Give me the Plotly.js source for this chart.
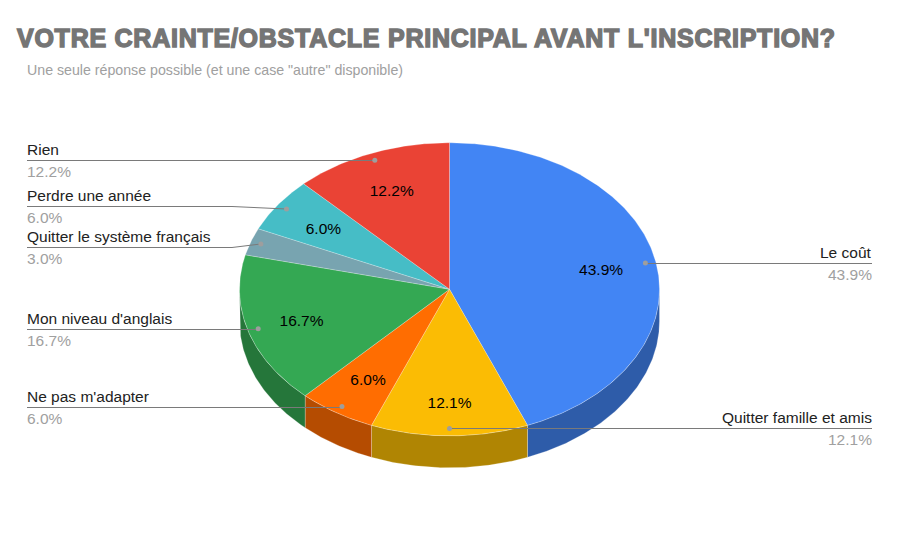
<!DOCTYPE html>
<html><head><meta charset="utf-8">
<script src="https://cdn.plot.ly/plotly-3.0.1.min.js"></script>
<style>
html,body{margin:0;padding:0;background:#fff;overflow:hidden}
.gtitle{stroke:#757575 !important;stroke-width:1.4px !important;letter-spacing:0.75px}
</style></head><body><div id="chart" style="width:899px;height:542px"></div>
<script>
// Data
const categories = ["Le coût","Quitter famille et amis","Ne pas m'adapter","Mon niveau d'anglais","Quitter le système français","Perdre une année","Rien"];
const values = [43.9,12.1,6.0,16.7,3.0,6.0,12.2];
const topColors = ["#4285f4","#fbbc04","#ff6d01","#34a853","#78a4b0","#46bdc6","#ea4335"];
const sideColors = ["#2e5ca9","#b08503","#b54c01","#25763a","#55747c","#31858b","#a42f25"];
// Geometry of the drawing
const cx = 449.5, cy = 289.3, rx = 210, ry = 146.5, depth = 32;
const labelSide = ["right","right","left","left","left","left","left"];
const labelY = [263.5,428.5,407.5,329.5,247.5,206.5,160.5];
const innerK = [0.735,0.765,0.72,0.735,0.735,0.735,0.735];
const leftX = 27, rightX = 872, elbowX = 232;

const total = values.reduce((a,b)=>a+b,0);
let cum = 0;
const slices = values.map((v,i)=>{const s=cum/total*2*Math.PI; cum+=v; return {s,e:cum/total*2*Math.PI,v,i};});
const px = (a,k=1)=>cx+k*rx*Math.sin(a);
const py = (a,k=1)=>cy-k*ry*Math.cos(a);
const range = (a,b)=>{const n=Math.max(2,Math.ceil((b-a)/0.01));const o=[];for(let j=0;j<=n;j++)o.push(a+(b-a)*j/n);return o;};

const traces = [];
const edge = 'rgba(255,255,255,0.35)';
// sides
slices.forEach(sl=>{
  const a=Math.max(sl.s,Math.PI/2), b=Math.min(sl.e,Math.PI*1.5);
  if(b<=a) return;
  const arc=range(a,b);
  const xs=arc.map(t=>px(t)).concat(arc.slice().reverse().map(t=>px(t)));
  const ys=arc.map(t=>py(t)).concat(arc.slice().reverse().map(t=>py(t)+depth));
  xs.push(xs[0]);ys.push(ys[0]);
  traces.push({type:'scatter',mode:'lines',x:xs,y:ys,fill:'toself',fillcolor:sideColors[sl.i],line:{color:edge,width:0.7},hoverinfo:'skip'});
});
// tops
slices.forEach(sl=>{
  const arc=range(sl.s,sl.e);
  const xs=[cx].concat(arc.map(t=>px(t)),[cx]);
  const ys=[cy].concat(arc.map(t=>py(t)),[cy]);
  traces.push({type:'scatter',mode:'lines',x:xs,y:ys,fill:'toself',fillcolor:topColors[sl.i],line:{color:edge,width:0.7},hoverinfo:'skip',name:categories[sl.i]});
});
// leaders
const annotations=[];
const font={family:'"Liberation Sans",Arial,sans-serif',size:15.5,color:'#222222'};
const grey={family:font.family,size:15.5,color:'#a0a0a0'};
slices.forEach(sl=>{
  const m=(sl.s+sl.e)/2, dx=px(m,0.95), dy=py(m,0.95), y=labelY[sl.i];
  const right=labelSide[sl.i]==='right';
  const endX=right?rightX:leftX;
  let xs,ys;
  if(Math.abs(dy-y)>1.5){xs=[endX,elbowX,dx];ys=[y,y,dy];}
  else{xs=[endX,dx];ys=[y,y];}
  traces.push({type:'scatter',mode:'lines',x:xs,y:ys,line:{color:'#7a7a7a',width:1},hoverinfo:'skip'});
  traces.push({type:'scatter',mode:'markers',x:[dx],y:[dy],marker:{color:'#9e9e9e',size:5},hoverinfo:'skip'});
  const anchor=right?'right':'left';
  annotations.push({xref:'x',yref:'y',x:right?endX+1:endX-1,y:y-11,text:categories[sl.i],showarrow:false,xanchor:anchor,yanchor:'middle',font,borderpad:0});
  annotations.push({xref:'x',yref:'y',x:right?endX+1:endX-1,y:y+11,text:sl.v.toFixed(1)+'%',showarrow:false,xanchor:anchor,yanchor:'middle',font:grey,borderpad:0});
});
// inner labels
const inner=slices.filter(s=>s.v>=5);
traces.push({type:'scatter',mode:'text',
  x:inner.map(s=>px((s.s+s.e)/2,innerK[s.i])),
  y:inner.map(s=>py((s.s+s.e)/2,innerK[s.i])+2.5),
  text:inner.map(s=>s.v.toFixed(1)+'%'),
  textposition:'middle center',
  textfont:{family:font.family,size:15.5,color:'#000000'},hoverinfo:'skip'});

annotations.push({xref:'x',yref:'y',x:26,y:70,text:'Une seule réponse possible (et une case "autre" disponible)',showarrow:false,xanchor:'left',yanchor:'middle',font:{family:font.family,size:14.2,color:'#a0a0a0'},borderpad:0});

Plotly.newPlot('chart',traces,{
  width:899,height:542,margin:{l:0,r:0,t:0,b:0},
  paper_bgcolor:'#fff',plot_bgcolor:'#fff',showlegend:false,
  title:{text:"VOTRE CRAINTE/OBSTACLE PRINCIPAL AVANT L'INSCRIPTION?",x:17/899,xref:'paper',xanchor:'left',y:1-38/542,yref:'paper',yanchor:'middle',
    font:{family:font.family,size:25,weight:900,color:'#757575'}},
  xaxis:{visible:false,range:[0,899],fixedrange:true},
  yaxis:{visible:false,range:[542,0],fixedrange:true},
  annotations
},{displayModeBar:false,staticPlot:true});
</script></body></html>
